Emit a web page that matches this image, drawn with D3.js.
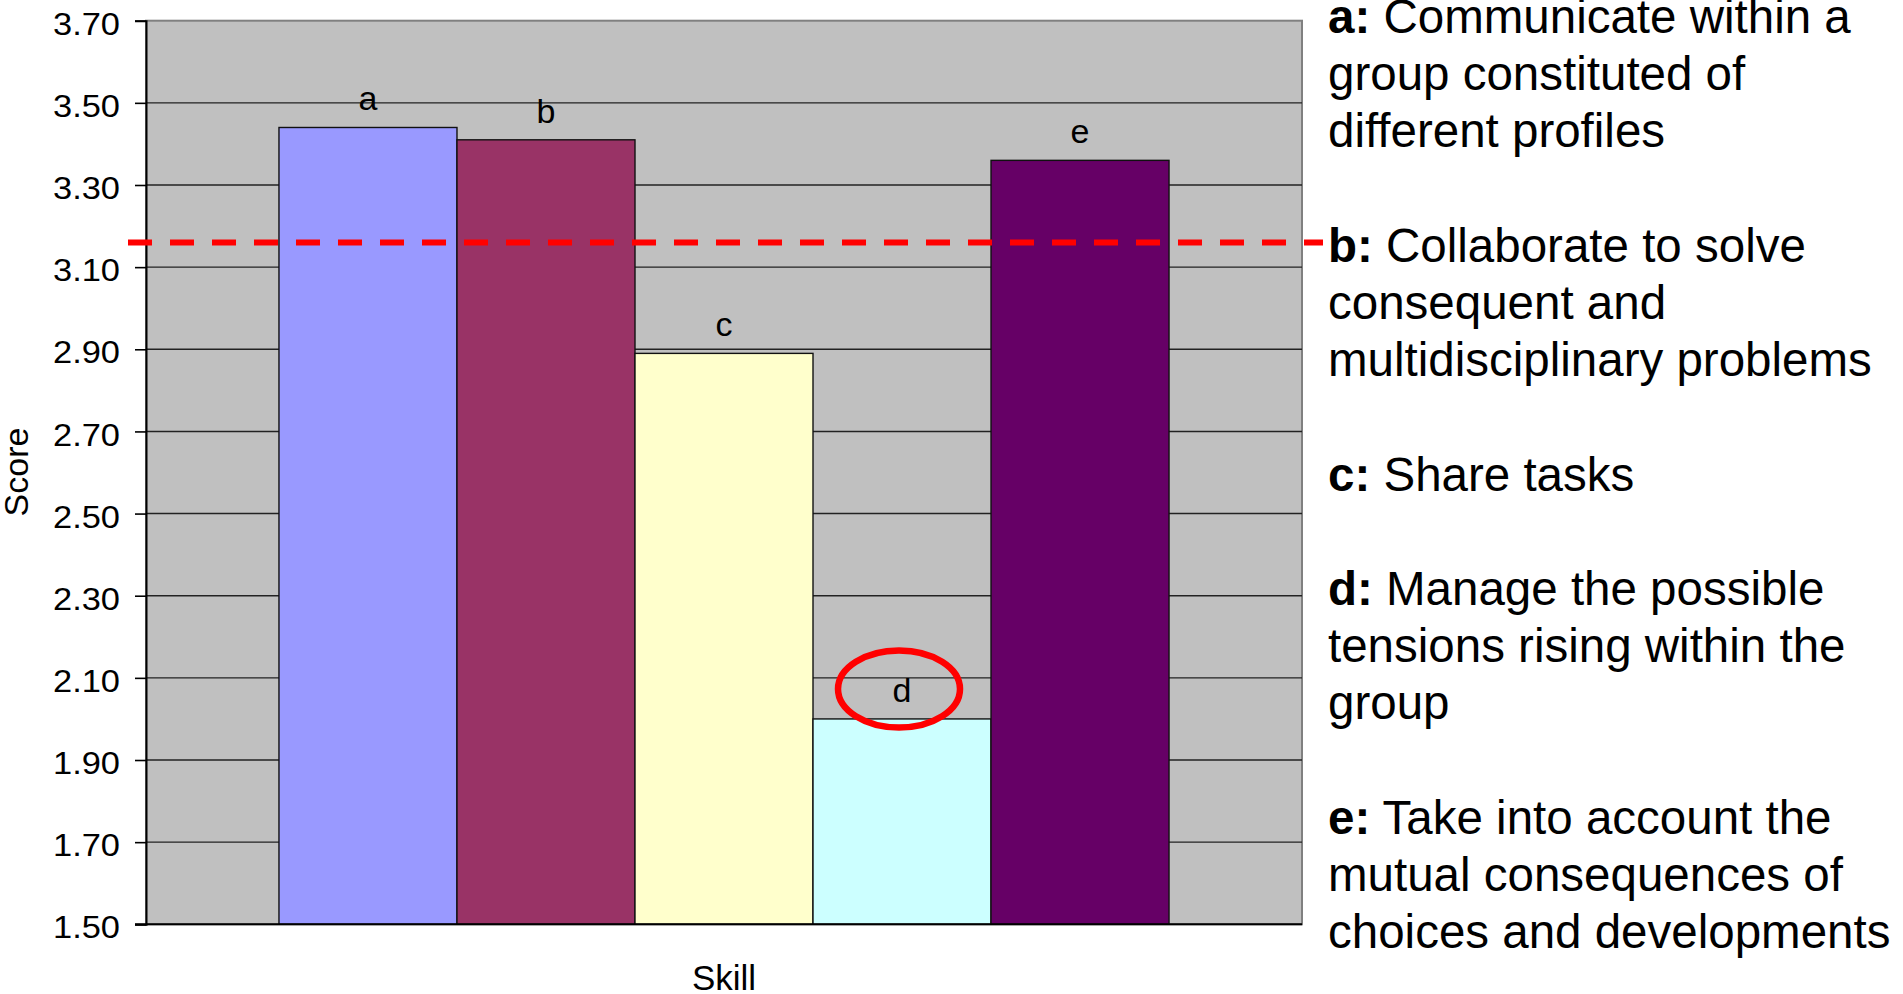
<!DOCTYPE html>
<html>
<head>
<meta charset="utf-8">
<script src="https://cdn.jsdelivr.net/npm/d3@7/dist/d3.min.js"></script>
<style>
  html, body { margin: 0; padding: 0; background: #fff; }
  svg { display: block; font-family: Arial, "Liberation Sans", sans-serif; }
</style>
</head>
<body>
<svg id="chart" width="1903" height="994"></svg>
<script>
// ---- data ----
const skills = ["a", "b", "c", "d", "e"];
const scores = [3.44, 3.41, 2.89, 2.00, 3.36];
const barColors = ["#9999FF", "#993366", "#FFFFCC", "#CCFFFF", "#660066"];
const yTicks = [1.50, 1.70, 1.90, 2.10, 2.30, 2.50, 2.70, 2.90, 3.10, 3.30, 3.50, 3.70];
const threshold = 3.16;
const highlighted = "d";
const legendKeys = ["a", "b", "c", "d", "e"];
const legendTexts = [
  ["Communicate within a", "group constituted of", "different profiles"],
  ["Collaborate to solve", "consequent and", "multidisciplinary problems"],
  ["Share tasks"],
  ["Manage the possible", "tensions rising within the", "group"],
  ["Take into account the", "mutual consequences of", "choices and developments"]
];
const xTitle = "Skill";
const yTitle = "Score";

// ---- layout ----
const plot = { left: 146, right: 1302, top: 20.7, bottom: 924.3 };
const svg = d3.select("#chart");

const x = d3.scaleBand().domain(skills).range([plot.left, plot.right])
  .paddingInner(0).paddingOuter(0.747);
const y = d3.scaleLinear().domain([1.5, 3.7]).range([plot.bottom, plot.top]);

// plot background
svg.append("rect")
  .attr("x", plot.left).attr("y", plot.top)
  .attr("width", plot.right - plot.left).attr("height", plot.bottom - plot.top)
  .attr("fill", "#C0C0C0").attr("stroke", "#808080").attr("stroke-width", 2);

// gridlines
svg.append("g").selectAll("line").data(yTicks.filter(t => t > 1.5 && t < 3.7)).join("line")
  .attr("x1", plot.left).attr("x2", plot.right)
  .attr("y1", d => y(d)).attr("y2", d => y(d))
  .attr("stroke", "#222").attr("stroke-width", 1.4);

// bars
svg.append("g").selectAll("rect").data(skills).join("rect")
  .attr("x", d => x(d))
  .attr("y", (d, i) => y(scores[i]))
  .attr("width", x.bandwidth())
  .attr("height", (d, i) => y(1.5) - y(scores[i]))
  .attr("fill", (d, i) => barColors[i])
  .attr("stroke", "#111").attr("stroke-width", 1.4);

// data labels
svg.append("g").selectAll("text").data(skills).join("text")
  .attr("x", d => x(d) + x.bandwidth() / 2)
  .attr("y", (d, i) => y(scores[i]) - 17)
  .attr("text-anchor", "middle")
  .attr("font-size", 34)
  .attr("fill", "#000")
  .text(d => d);

// y axis
const yAxis = d3.axisLeft(y).tickValues(yTicks).tickFormat(d3.format(".2f")).tickSize(11).tickPadding(15);
const ga = svg.append("g").attr("transform", `translate(${plot.left},0)`).call(yAxis);
ga.select(".domain").attr("stroke", "#000").attr("stroke-width", 2);
ga.selectAll(".tick line").attr("stroke", "#000").attr("stroke-width", 1.6);
ga.selectAll(".tick text")
  .attr("font-size", 31)
  .attr("font-family", "Arial, 'Liberation Sans', sans-serif")
  .attr("fill", "#000")
  .attr("dy", "0.44em")
  .attr("textLength", 67)
  .attr("lengthAdjust", "spacingAndGlyphs");

// bottom axis line
svg.append("line")
  .attr("x1", plot.left - 11).attr("x2", plot.right)
  .attr("y1", y(1.5)).attr("y2", y(1.5))
  .attr("stroke", "#000").attr("stroke-width", 2);

// threshold dashed line
svg.append("line")
  .attr("x1", 128).attr("x2", 1323)
  .attr("y1", y(threshold)).attr("y2", y(threshold))
  .attr("stroke", "#FF0000").attr("stroke-width", 6)
  .attr("stroke-dasharray", "24,18");

// highlight ellipse
const hi = skills.indexOf(highlighted);
svg.append("ellipse")
  .attr("cx", x(highlighted) + x.bandwidth() / 2 - 3)
  .attr("cy", y(scores[hi]) - 30)
  .attr("rx", 61).attr("ry", 38.5)
  .attr("fill", "none").attr("stroke", "#FF0000").attr("stroke-width", 6.5);

// axis titles
svg.append("text")
  .attr("x", (plot.left + plot.right) / 2).attr("y", 990)
  .attr("text-anchor", "middle").attr("font-size", 35).attr("fill", "#000")
  .text(xTitle);
svg.append("text")
  .attr("transform", "translate(28,472) rotate(-90)")
  .attr("text-anchor", "middle").attr("font-size", 34).attr("fill", "#000")
  .text(yTitle);

// legend
const lg = svg.append("g");
let lineIdx = 0;
legendKeys.forEach((k, i) => {
  legendTexts[i].forEach((t, j) => {
    const txt = lg.append("text")
      .attr("x", 1328).attr("y", 33 + 57.2 * lineIdx)
      .attr("font-size", 47.5).attr("fill", "#000");
    if (j === 0) {
      txt.append("tspan").attr("font-weight", "bold").text(k + ":");
      txt.append("tspan").text(" " + t);
    } else {
      txt.text(t);
    }
    lineIdx++;
  });
  lineIdx++;
});
</script>
</body>
</html>
